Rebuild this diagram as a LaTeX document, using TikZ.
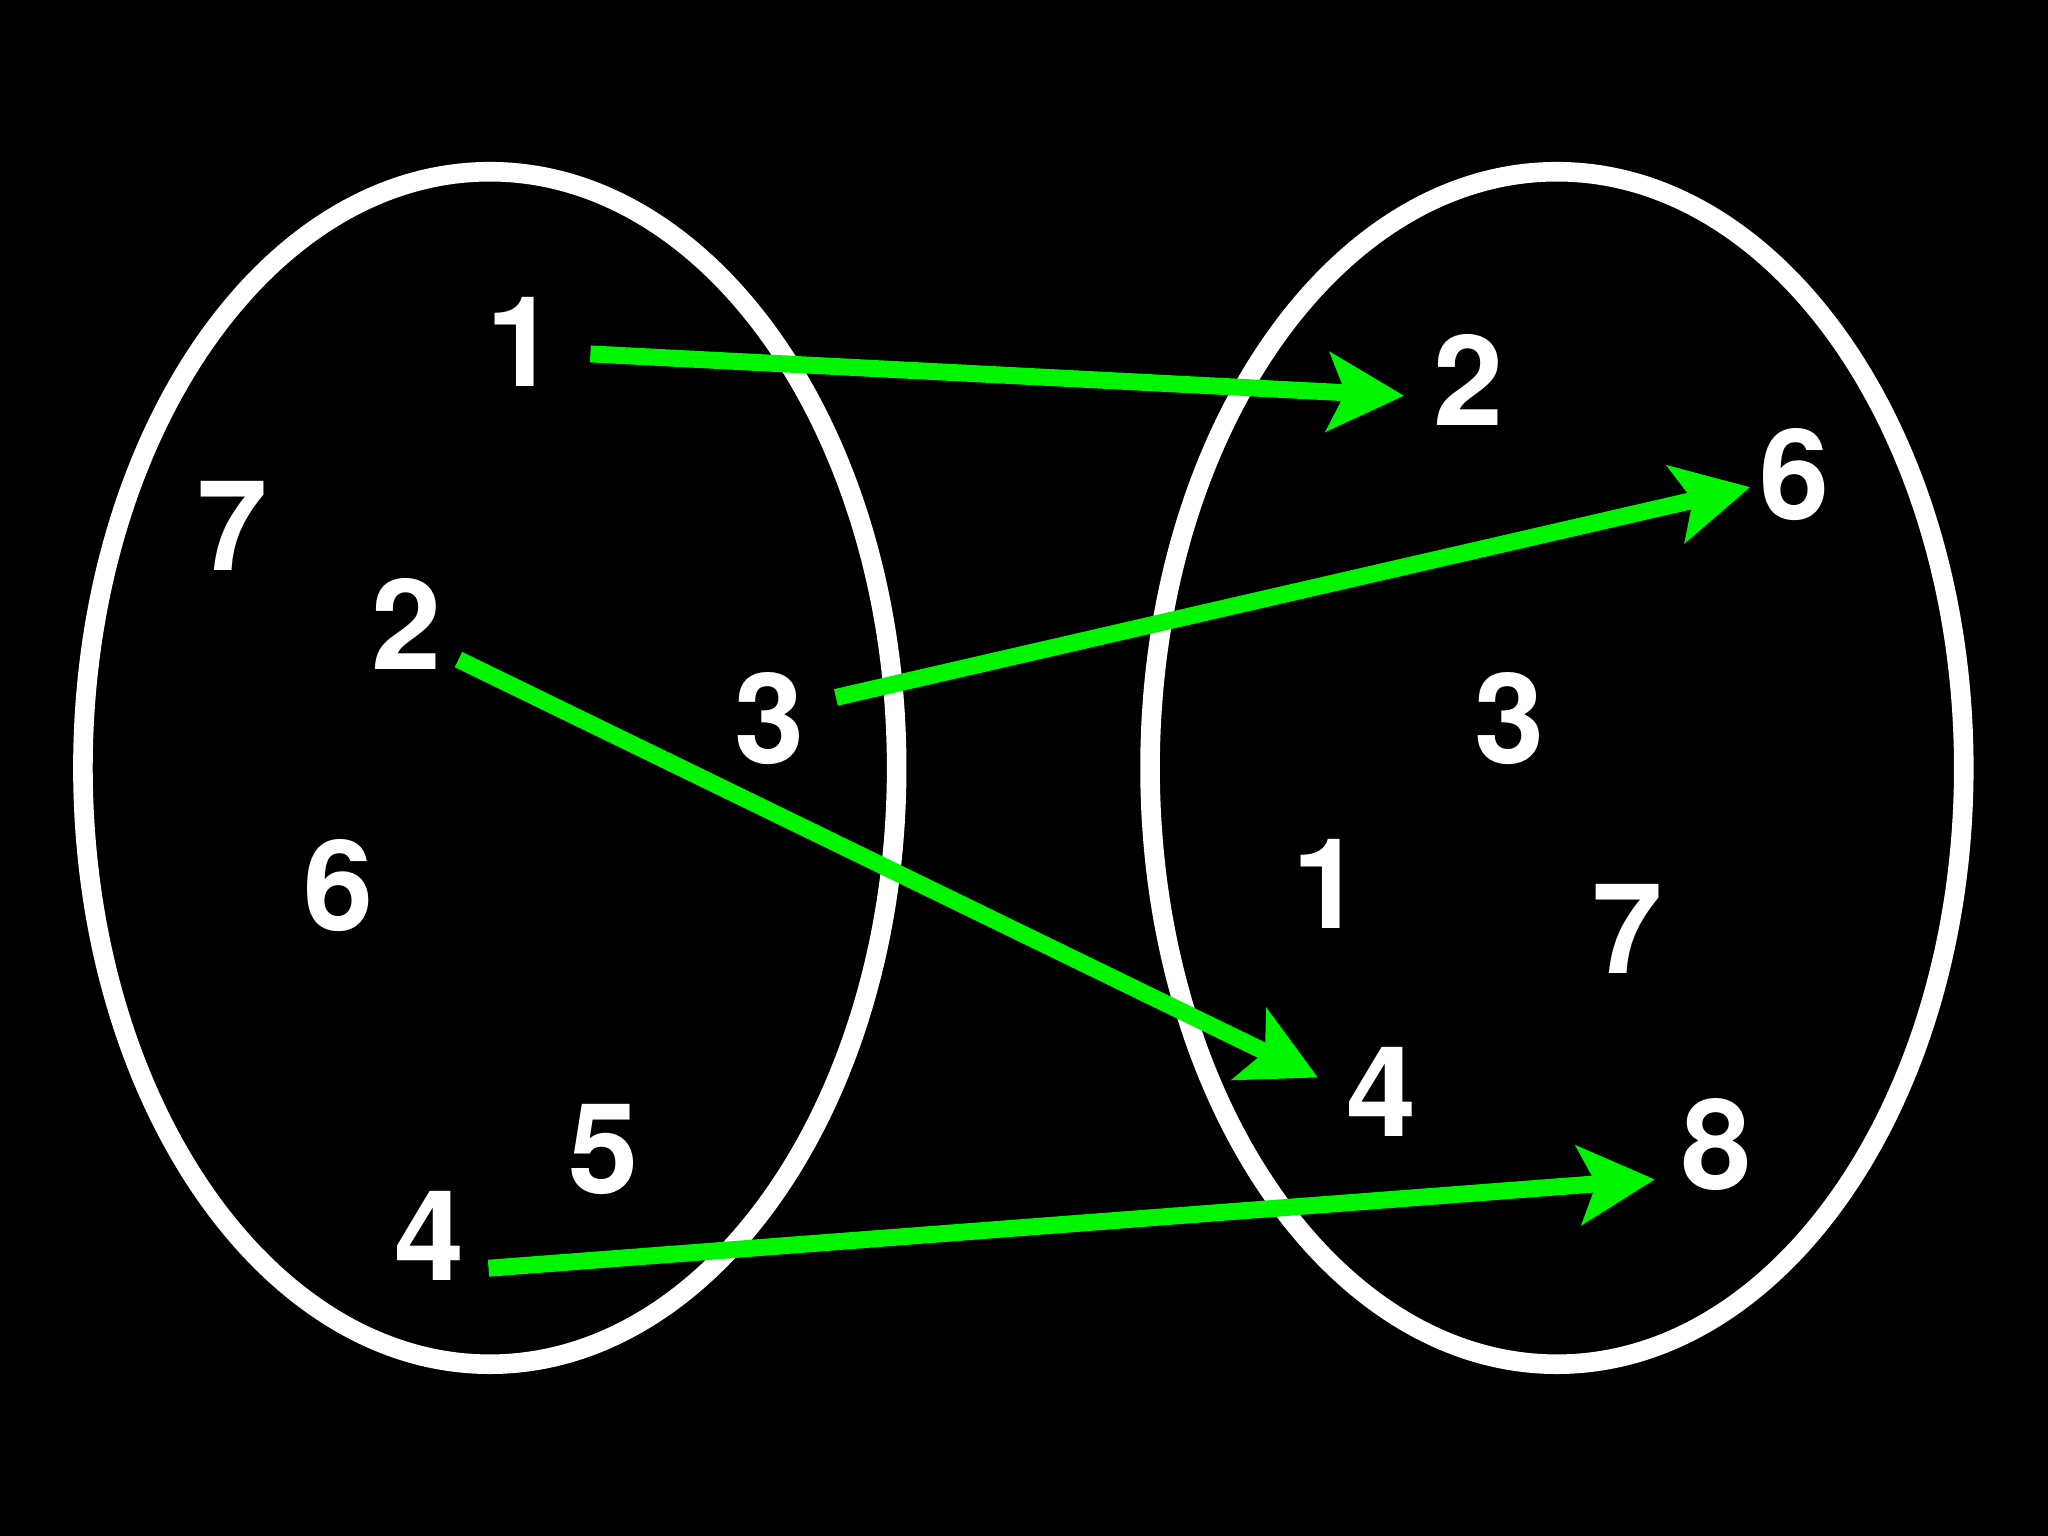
\documentclass[tikz,border=0pt]{standalone}
\usepackage{fontspec}
\setmainfont{TeX Gyre Heros}
\usetikzlibrary{arrows.meta,positioning}

\definecolor{arrowgreen}{RGB}{0,245,0}

\begin{document}
\begin{tikzpicture}
[
setring/.style={draw=white, line width=0.15cm},
elem/.style={text=white, font=\fontsize{27.4}{30}\bfseries\selectfont, inner sep=0pt},
link/.style={draw=arrowgreen, line width=0.13cm, -{Stealth[length=0.58cm, width=0.6cm, inset=0.13cm]}},
]
\fill[black] (0,0) rectangle (15.68,11.76);
\draw[setring] (3.75,5.88) ellipse (3.115 and 4.565);
\draw[setring] (11.92,5.88) ellipse (3.115 and 4.565);
% left set
\node[elem] (l1) at (3.99,9.14) {1};
\node[elem] (l7) at (1.78,7.73) {7};
\node[elem] (l2) at (3.11,6.98) {2};
\node[elem] (l3) at (5.89,6.26) {3};
\node[elem] (l6) at (2.59,4.98) {6};
\node[elem] (l5) at (4.62,2.96) {5};
\node[elem] (l4) at (3.29,2.30) {4};
% right set
\node[elem] (r2) at (11.24,8.85) {2};
\node[elem] (r6) at (13.74,8.13) {6};
\node[elem] (r3) at (11.56,6.26) {3};
\node[elem] (r1) at (10.16,4.99) {1};
\node[elem] (r7) at (12.46,4.65) {7};
\node[elem] (r4) at (10.58,3.40) {4};
\node[elem] (r8) at (13.14,3.00) {8};
% arrow ends
\coordinate (a1) at (4.52,9.05);
\coordinate (b1) at (10.75,8.73);
\coordinate (a2) at (6.40,6.42);
\coordinate (b2) at (13.40,8.03);
\coordinate (a3) at (3.51,6.71);
\coordinate (b3) at (10.09,3.51);
\coordinate (a4) at (3.74,2.05);
\coordinate (b4) at (12.67,2.73);
\draw[link] (a1) -- (b1);
\draw[link] (a2) -- (b2);
\draw[link] (a3) -- (b3);
\draw[link] (a4) -- (b4);
\end{tikzpicture}
\end{document}
